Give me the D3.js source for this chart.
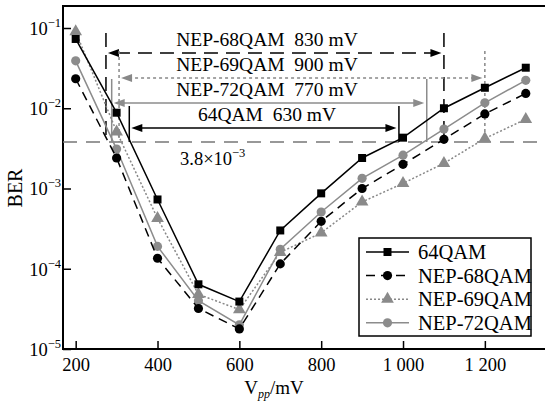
<!DOCTYPE html>
<html>
<head>
<meta charset="utf-8">
<script src="https://cdn.jsdelivr.net/npm/d3@7/dist/d3.min.js"></script>
<style>
  body { margin: 0; background: #fff; }
  svg { display: block; font-family: "Liberation Serif", "Times New Roman", serif; }
  text { white-space: pre; }
</style>
</head>
<body>
<div class="canvas"></div>
<script>
// data
const vpp = [200, 300, 400, 500, 600, 700, 800, 900, 1000, 1100, 1200, 1300];
const ber64 = [0.073, 0.0088, 7.3e-4, 6.4e-5, 3.9e-5, 3.0e-4, 8.7e-4, 2.4e-3, 4.3e-3, 0.010, 0.018, 0.032];
const ber68 = [0.0233, 2.4e-3, 1.35e-4, 3.2e-5, 1.78e-5, 1.15e-4, 3.9e-4, 1.0e-3, 2.0e-3, 4.1e-3, 8.5e-3, 0.0153];
const ber69 = [0.09, 5.1e-3, 4.25e-4, 4.8e-5, 3.1e-5, 1.6e-4, 2.8e-4, 6.8e-4, 1.16e-3, 2.06e-3, 4.2e-3, 7.3e-3];
const ber72 = [0.039, 3.1e-3, 1.9e-4, 4.0e-5, 2.0e-5, 1.75e-4, 5.1e-4, 1.34e-3, 2.6e-3, 5.5e-3, 0.0117, 0.0223];
const seriesNames = ['64QAM', 'NEP-68QAM', 'NEP-69QAM', 'NEP-72QAM'];

const xTicks = [200, 400, 600, 800, 1000, 1200];
const xTickLabels = ['200', '400', '600', '800', '1 000', '1 200'];
const yTicks = [1e-5, 1e-4, 1e-3, 1e-2, 1e-1];
const yTickExps = ['\u22125', '\u22124', '\u22123', '\u22122', '\u22121'];

const threshold = 3.8e-3;
// voltage windows (mV) below the threshold
const spanLabels = ['NEP-68QAM  830 mV', 'NEP-69QAM  900 mV', 'NEP-72QAM  770 mV', '64QAM  630 mV'];
const spanFrom = [274, 306, 288, 331];
const spanTo = [1100, 1200, 1058, 990];

// svg
const svg = d3.select('.canvas')
  .append('svg')
    .attr('width', 545)
    .attr('height', 404);

const plot = {left: 63, right: 545, top: 6, bottom: 349};

// scales
const x = d3.scaleLinear().domain([169, 1347]).range([plot.left, plot.right]);
const y = d3.scaleLog().domain([1e-5, 0.188]).range([plot.bottom, plot.top]);

// frame top line
svg.append('line')
  .attr('x1', plot.left).attr('x2', plot.right)
  .attr('y1', plot.top).attr('y2', plot.top)
  .attr('stroke', '#000').attr('stroke-width', 2);

// axes
const xAxis = d3.axisBottom(x)
  .tickValues(xTicks)
  .tickSizeInner(-8).tickSizeOuter(0).tickPadding(9)
  .tickFormat((d, i) => xTickLabels[i]);

const yAxis = d3.axisLeft(y)
  .tickValues(yTicks)
  .tickSizeInner(-8).tickSizeOuter(0).tickPadding(2)
  .tickFormat(() => '');

const xAxisGroup = svg.append('g')
  .attr('transform', `translate(0, ${plot.bottom})`)
  .call(xAxis);

const yAxisGroup = svg.append('g')
  .attr('transform', `translate(${plot.left}, 0)`)
  .call(yAxis);

[xAxisGroup, yAxisGroup].forEach(g => {
  g.select('.domain').attr('stroke-width', 2);
  g.selectAll('.tick line').attr('stroke-width', 1.5);
});
// keep the x axis line running from the y axis
xAxisGroup.select('.domain').attr('d', `M${plot.left - 1},0H${plot.right}`);
yAxisGroup.select('.domain').attr('d', `M0,${plot.top - 1}V${plot.bottom + 1}`);

xAxisGroup.selectAll('.tick text')
  .attr('font-size', 18.5)
  .attr('font-family', '"Liberation Serif", serif')
  .attr('fill', '#000');

yAxisGroup.selectAll('.tick text').each(function(d, i) {
  const t = d3.select(this)
    .attr('font-size', 18.5)
    .attr('font-family', '"Liberation Serif", serif')
    .attr('fill', '#000')
    .attr('dy', '0.35em');
  t.append('tspan').text('10');
  t.append('tspan').attr('font-size', 12.5).attr('dy', '-0.65em').text(yTickExps[i]);
});

// axis titles
svg.append('text')
  .attr('transform', 'translate(22, 188) rotate(-90)')
  .attr('text-anchor', 'middle')
  .attr('font-size', 20)
  .text('BER');

const xTitle = svg.append('text')
  .attr('x', 274).attr('y', 394)
  .attr('text-anchor', 'middle')
  .attr('font-size', 19);
xTitle.append('tspan').text('V');
xTitle.append('tspan').attr('font-size', 12).attr('font-style', 'italic').attr('dy', 4).text('pp');
xTitle.append('tspan').attr('dy', -4).text('/mV');

// threshold line
svg.append('line')
  .attr('x1', plot.left).attr('x2', plot.right)
  .attr('y1', y(threshold)).attr('y2', y(threshold))
  .attr('stroke', '#777').attr('stroke-width', 1.5)
  .attr('stroke-dasharray', '14,9');

const thr = svg.append('text')
  .attr('x', 180).attr('y', y(threshold) + 23)
  .attr('font-size', 18.5);
thr.append('tspan').text('3.8\u00d710');
thr.append('tspan').attr('font-size', 12.5).attr('dy', '-0.65em').text('\u22123');

// window annotations
const spanStyles = [
  {color: '#000', dash: '14,8', arrowY: 53, topY: 33},
  {color: '#888', dash: '3,3', arrowY: 78, topY: 51},
  {color: '#8c8c8c', dash: null, arrowY: 103, topY: 79},
  {color: '#000', dash: null, arrowY: 128, topY: 106}
];

spanLabels.forEach((label, i) => {
  const s = spanStyles[i];
  const x1 = x(spanFrom[i]), x2 = x(spanTo[i]);
  const g = svg.append('g');

  [x1, x2].forEach(xx => {
    g.append('line')
      .attr('x1', xx).attr('x2', xx)
      .attr('y1', s.topY).attr('y2', y(threshold))
      .attr('stroke', s.color).attr('stroke-width', 1.5)
      .attr('stroke-dasharray', s.dash);
  });

  const a1 = x1 + 2, a2 = x2 - 2.5;
  g.append('line')
    .attr('x1', a1 + 8).attr('x2', a2 - 8)
    .attr('y1', s.arrowY).attr('y2', s.arrowY)
    .attr('stroke', s.color).attr('stroke-width', 1.5)
    .attr('stroke-dasharray', s.dash);

  // arrow heads
  g.append('path')
    .attr('d', `M${a1},${s.arrowY}L${a1 + 11},${s.arrowY - 4}L${a1 + 11},${s.arrowY + 4}Z`)
    .attr('fill', s.color);
  g.append('path')
    .attr('d', `M${a2},${s.arrowY}L${a2 - 11},${s.arrowY - 4}L${a2 - 11},${s.arrowY + 4}Z`)
    .attr('fill', s.color);

  g.append('text')
    .attr('x', 267).attr('y', s.arrowY - 7)
    .attr('text-anchor', 'middle')
    .attr('font-size', 19.5)
    .text(label);
});

// series
const series = [
  {name: seriesNames[0], values: ber64, stroke: '#000', fill: '#000', dash: null, symbol: d3.symbolSquare, size: 64},
  {name: seriesNames[1], values: ber68, stroke: '#000', fill: '#000', dash: '9,6', symbol: d3.symbolCircle, size: 66},
  {name: seriesNames[2], values: ber69, stroke: '#888', fill: '#8a8a8a', dash: '2,2', symbol: d3.symbolTriangle, size: 70},
  {name: seriesNames[3], values: ber72, stroke: '#8c8c8c', fill: '#8c8c8c', dash: null, symbol: d3.symbolCircle, size: 66}
];

const line = d3.line()
  .x((d, i) => x(vpp[i]))
  .y(d => y(d));

const plotOrder = [3, 2, 1, 0];
plotOrder.forEach(k => {
  const s = series[k];
  svg.append('path')
    .datum(s.values)
    .attr('d', line)
    .attr('fill', 'none')
    .attr('stroke', s.stroke)
    .attr('stroke-width', 1.5)
    .attr('stroke-dasharray', s.dash);

  svg.append('g').selectAll('path')
    .data(s.values)
    .enter()
    .append('path')
      .attr('d', d3.symbol().type(s.symbol).size(s.size))
      .attr('transform', (d, i) => `translate(${x(vpp[i])}, ${y(d)})`)
      .attr('fill', s.fill);
});

// legend
const legend = svg.append('g').attr('transform', 'translate(359, 238)');
legend.append('rect')
  .attr('width', 172).attr('height', 98)
  .attr('fill', '#fff')
  .attr('stroke', '#000').attr('stroke-width', 1.5);

series.forEach((s, i) => {
  const row = legend.append('g').attr('transform', `translate(0, ${14 + i * 23.6})`);
  row.append('line')
    .attr('x1', 7).attr('x2', 50)
    .attr('stroke', s.stroke).attr('stroke-width', 1.5)
    .attr('stroke-dasharray', s.dash);
  row.append('path')
    .attr('d', d3.symbol().type(s.symbol).size(s.size))
    .attr('transform', 'translate(28.5, 0)')
    .attr('fill', s.fill);
  row.append('text')
    .attr('x', 59).attr('dy', '0.35em')
    .attr('font-size', 20.5)
    .text(s.name);
});
</script>
</body>
</html>
